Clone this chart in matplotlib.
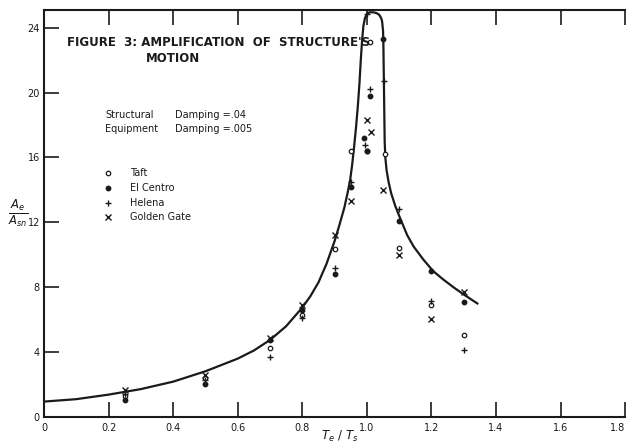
import matplotlib
matplotlib.use('Agg')
import matplotlib.pyplot as plt

# smooth response curve
curve_x = [0.0, 0.1, 0.2, 0.3, 0.4, 0.5, 0.6, 0.65, 0.7, 0.75, 0.8, 0.825, 0.85,
           0.875, 0.9, 0.915, 0.93, 0.94, 0.948, 0.954, 0.96, 0.966, 0.972,
           0.977, 0.981, 0.985, 0.989, 0.994, 1.0, 1.008, 1.02, 1.03, 1.038,
           1.044, 1.047, 1.05, 1.051, 1.052, 1.053, 1.054, 1.055, 1.057, 1.061,
           1.067, 1.075, 1.088, 1.104, 1.125, 1.145, 1.175, 1.205, 1.235, 1.268,
           1.3, 1.342]
curve_y = [0.95, 1.1, 1.38, 1.72, 2.18, 2.82, 3.6, 4.1, 4.75, 5.6, 6.75, 7.45, 8.3,
           9.45, 10.85, 11.85, 12.9, 13.8, 14.6, 15.5, 16.6, 17.8, 19.2,
           20.6, 22.0, 23.2, 24.1, 24.6, 24.85, 24.95, 24.95, 24.9, 24.8,
           24.6, 24.4, 23.8, 23.0, 21.5, 20.0, 18.5, 17.0, 16.0, 15.2,
           14.5, 13.8, 13.0, 12.2, 11.2, 10.5, 9.7, 9.0, 8.5, 8.0,
           7.55, 7.0]

# test records
taft_x = [0.25, 0.5, 0.7, 0.8, 0.9, 0.95, 1.0, 1.01, 1.055, 1.1, 1.2, 1.3]
taft_y = [1.3, 2.4, 4.24, 6.3, 10.35, 16.4, 16.4, 23.1, 16.2, 10.4, 6.9, 5.06]

centro_x = [0.25, 0.5, 0.7, 0.8, 0.9, 0.95, 0.99, 1.0, 1.01, 1.05, 1.1, 1.2, 1.3]
centro_y = [1.05, 2.04, 4.75, 6.6, 8.8, 14.2, 17.2, 16.4, 19.8, 23.3, 12.1, 9.0, 7.06]

helena_x = [0.25, 0.5, 0.7, 0.8, 0.9, 0.95, 0.995, 1.0, 1.01, 1.053, 1.1, 1.2, 1.3]
helena_y = [1.4, 2.3, 3.72, 6.1, 9.2, 14.5, 16.8, 24.85, 20.2, 20.7, 12.8, 7.16, 4.14]

gg_x = [0.25, 0.5, 0.7, 0.8, 0.9, 0.95, 1.0, 1.013, 1.05, 1.1, 1.2, 1.3]
gg_y = [1.67, 2.6, 4.9, 6.9, 11.2, 13.3, 18.3, 17.55, 14.0, 10.0, 6.05, 7.7]

x_ticks = [0, 0.2, 0.4, 0.6, 0.8, 1.0, 1.2, 1.4, 1.6, 1.8]
x_labels = ['0', '0.2', '0.4', '0.6', '0.8', '1.0', '1.2', '1.4', '1.6', '1.8']
y_ticks = [0, 4, 8, 12, 16, 20, 24]

ink = '#1a1a1a'

fig = plt.figure(figsize=(6.29, 4.43), dpi=100)
ax = fig.add_axes([0.070, 0.0587, 0.924, 0.919])

ax.plot(curve_x, curve_y, color=ink, lw=1.6)
ax.plot(taft_x, taft_y, 'o', mfc='white', mec=ink, ms=3.2, mew=0.9)
ax.plot(centro_x, centro_y, 'o', color=ink, ms=3.2)
ax.plot(helena_x, helena_y, '+', color=ink, ms=5, mew=1.0)
ax.plot(gg_x, gg_y, 'x', color=ink, ms=4, mew=1.0)

ax.set_xlim(0, 1.8)
ax.set_ylim(0, 25.1)
ax.set_xticks(x_ticks)
ax.set_xticklabels(x_labels)
ax.set_yticks(y_ticks)
ax.tick_params(direction='in', length=11, width=1.2, colors=ink,
               labelsize=7, top=True, pad=3)
ax.tick_params(axis='x', pad=4)
# last label sits against the page edge
ax.get_xticklabels()[-1].set_horizontalalignment('right')
for s in ['left', 'bottom', 'top']:
    ax.spines[s].set_linewidth(1.5)
    ax.spines[s].set_color(ink)
ax.spines['right'].set_visible(False)

# titles and notes
fig.text(67/629, 1 - 42/443, "FIGURE  3: AMPLIFICATION  OF  STRUCTURE'S",
         fontsize=8.5, fontweight='bold', color=ink, va='center')
fig.text(146/629, 1 - 58/443, "MOTION",
         fontsize=8.5, fontweight='bold', color=ink, va='center')
fig.text(105/629, 1 - 115/443, "Structural", fontsize=7, color=ink, va='center')
fig.text(175/629, 1 - 115/443, "Damping =.04", fontsize=7, color=ink, va='center')
fig.text(105/629, 1 - 129/443, "Equipment", fontsize=7, color=ink, va='center')
fig.text(175/629, 1 - 129/443, "Damping =.005", fontsize=7, color=ink, va='center')

# hand-drawn key
key_names = ['Taft', 'El Centro', 'Helena', 'Golden Gate']
key_rows = [173, 188, 203, 217]
fig.lines.append(plt.Line2D([108/629], [1 - 173/443], marker='o', mfc='white',
                            mec=ink, ms=3.2, mew=0.9, transform=fig.transFigure))
fig.lines.append(plt.Line2D([108/629], [1 - 188/443], marker='o', color=ink,
                            ms=3.2, transform=fig.transFigure))
fig.lines.append(plt.Line2D([108/629], [1 - 203/443], marker='+', color=ink,
                            ms=5, mew=1.0, transform=fig.transFigure))
fig.lines.append(plt.Line2D([108/629], [1 - 217/443], marker='x', color=ink,
                            ms=4, mew=1.0, transform=fig.transFigure))
for name, row in zip(key_names, key_rows):
    fig.text(130/629, 1 - row/443, name, fontsize=7, color=ink, va='center')

# axis labels
fig.text(18/629, 1 - 213/443, r'$\frac{A_e}{A_{sn}}$', fontsize=12,
         color=ink, ha='center', va='center')
fig.text(340/629, 1 - 436/443, r'$T_e\ /\ T_s$', fontsize=8.5,
         color=ink, ha='center', va='center')

fig.savefig('out.png', dpi=100, facecolor='white')
